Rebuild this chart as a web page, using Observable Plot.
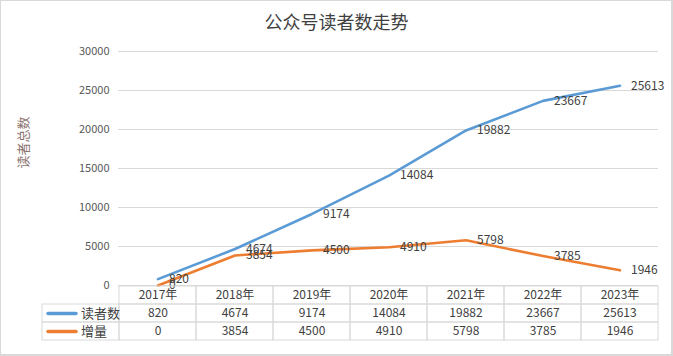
<!DOCTYPE html>
<html>
<head>
<meta charset="utf-8">
<script src="https://cdn.jsdelivr.net/npm/d3@7"></script>
<script src="https://cdn.jsdelivr.net/npm/@observablehq/plot@0.6"></script>
<style>
  html, body { margin: 0; padding: 0; background: #fff; }
  #wrap { position: relative; width: 673px; height: 356px; overflow: hidden; font-family: "Noto Sans CJK SC", "Noto Sans", sans-serif; }
  #border { position: absolute; left: 0; top: 0; width: 673px; height: 356px; box-sizing: border-box; border: 1px solid #d9d9d9; border-right-width: 2px; border-bottom-width: 2px; pointer-events: none; }
  #title { position: absolute; left: 0; top: 8px; width: 673px; text-align: center; font-size: 18px; line-height: 26px; color: #404040; }
  #chart { position: absolute; left: 0; top: 40px; }
  #table { position: absolute; left: 0; top: 285px; }
  svg { overflow: visible; }
</style>
</head>
<body>
<div id="wrap">
  <div id="title">公众号读者数走势</div>
  <div id="chart"></div>
  <div id="table"></div>
  <div id="border"></div>
</div>
<script>
// ---- data ----
const years = ["2017年", "2018年", "2019年", "2020年", "2021年", "2022年", "2023年"];
const readers = [820, 4674, 9174, 14084, 19882, 23667, 25613];
const increments = [0, 3854, 4500, 4910, 5798, 3785, 1946];
const seriesNames = ["读者数", "增量"];
const seriesColors = ["#5B9BD5", "#ED7D31"];
const yTicks = [0, 5000, 10000, 15000, 20000, 25000, 30000];
const yTitle = "读者总数";

const seriesValues = [readers, increments];
const points = seriesNames.flatMap((name, s) =>
  years.map((year, i) => ({series: name, year, value: seriesValues[s][i]}))
);

const font = '"Noto Sans CJK SC", "Noto Sans", sans-serif';

// ---- chart ----
const chart = Plot.plot({
  width: 673,
  height: 246,
  marginLeft: 118,
  marginRight: 15,
  marginTop: 11,
  marginBottom: 1,
  style: {fontFamily: font, background: "transparent", overflow: "visible"},
  x: {type: "band", domain: years, padding: 0, round: true, axis: null},
  y: {domain: [0, 30000], axis: null},
  color: {domain: seriesNames, range: seriesColors},
  marks: [
    Plot.gridY(yTicks, {stroke: "#d9d9d9", strokeOpacity: 1}),
    Plot.axisY(yTicks, {tickSize: 0, tickPadding: 9, fontSize: 11, color: "#595959", label: null, tickFormat: d => String(d)}),
    Plot.text([yTitle], {frameAnchor: "left", text: d => d, rotate: -90, dx: -95, fontSize: 13, fill: "#8c7470"}),
    Plot.line(points, {x: "year", y: "value", z: "series", stroke: "series", strokeWidth: 2.6, strokeLinejoin: "round", strokeLinecap: "round"}),
    Plot.text(points, {x: "year", y: "value", text: d => String(d.value), textAnchor: "start", dx: 11, fontSize: 12, fill: "#404040"})
  ]
});
document.getElementById("chart").appendChild(chart);

// ---- data table ----
const headerCells = years.map(year => ({col: year, row: "header", label: year}));
const bodyCells = seriesNames.flatMap((name, s) => [
  {col: "", row: name, label: name, legend: true},
  ...years.map((year, i) => ({col: year, row: name, label: String(seriesValues[s][i])}))
]);
const allCells = [...headerCells, ...bodyCells];
const legendCells = bodyCells.filter(d => d.legend);

const table = Plot.plot({
  width: 673,
  height: 56,
  marginLeft: 41,
  marginRight: 15,
  marginTop: 1,
  marginBottom: 1,
  style: {fontFamily: font, background: "transparent", overflow: "visible"},
  x: {type: "band", domain: ["", ...years], padding: 0, round: true, axis: null},
  y: {type: "band", domain: ["header", ...seriesNames], padding: 0, axis: null},
  color: {domain: seriesNames, range: seriesColors},
  marks: [
    Plot.cell(allCells, {x: "col", y: "row", fill: "none", stroke: "#d9d9d9", inset: 0}),
    Plot.tickY(legendCells, {x: "col", y: "row", stroke: d => d.row, strokeWidth: 3.5, strokeLinecap: "round", insetLeft: 6, insetRight: 43}),
    Plot.text(allCells.filter(d => !d.legend), {x: "col", y: "row", text: "label", fontSize: 12, fill: "#404040"}),
    Plot.text(legendCells, {x: "col", y: "row", text: "label", textAnchor: "start", fontSize: 13, fill: "#404040"})
  ]
});
document.getElementById("table").appendChild(table);
</script>
</body>
</html>
